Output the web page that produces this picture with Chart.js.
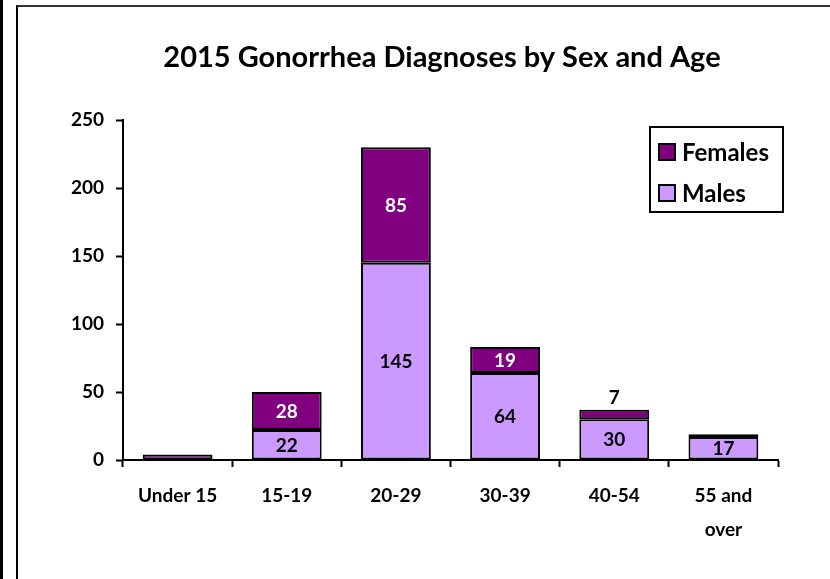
<!DOCTYPE html>
<html>
<head>
<meta charset="utf-8">
<script src="https://cdn.jsdelivr.net/npm/chart.js@4/dist/chart.umd.min.js"></script>
<style>
  html, body { margin: 0; padding: 0; background: #fff; }
  #wrap { position: relative; width: 830px; height: 579px; overflow: hidden; }
  #edge { position: absolute; left: 0; top: 0; width: 3px; height: 579px; background: #000; }
  #frame { position: absolute; left: 16px; top: 5px; width: 900px; height: 700px;
           border-left: 2px solid #000; border-top: 2px solid #333; }
  canvas { position: absolute; left: 0; top: 0; }
</style>
</head>
<body>
<div id="wrap">
  <div id="edge"></div>
  <div id="frame"></div>
  <canvas id="chart" width="830" height="579"></canvas>
</div>
<script>
const chartTitle = "2015 Gonorrhea Diagnoses by Sex and Age";
const ageGroups = ["Under 15", "15-19", "20-29", "30-39", "40-54", ["55 and", "over"]];
const males = [0, 22, 145, 64, 30, 17];
const females = [4, 28, 85, 19, 7, 2];
const yTicks = [0, 50, 100, 150, 200, 250];

const FONT = "Lato, 'Open Sans', sans-serif";

// draws the title, the boxed legend and the value labels
const decor = {
  id: "decor",
  afterDatasetsDraw(chart) {
    const ctx = chart.ctx;
    ctx.save();
    ctx.fillStyle = "#000";
    ctx.font = "bold 29px " + FONT;
    ctx.textAlign = "center";
    ctx.textBaseline = "middle";
    ctx.fillText(chartTitle, 442, 58);

    // value labels
    ctx.font = "bold 19px " + FONT;
    chart.data.datasets.forEach((ds, i) => {
      const meta = chart.getDatasetMeta(i);
      meta.data.forEach((bar, j) => {
        const v = ds.data[j];
        const h = Math.abs(bar.base - bar.y);
        if (h >= 20) {
          ctx.fillStyle = ds.labelColor;
          ctx.fillText(String(v), bar.x, (bar.y + bar.base) / 2 + 1);
        } else if (v >= 5) {
          ctx.fillStyle = "#000";
          ctx.fillText(String(v), bar.x, bar.y - 12);
        }
      });
    });

    // legend box
    const lx = 650, ly = 127, lw = 133, lh = 85;
    ctx.lineWidth = 2;
    ctx.strokeStyle = "#000";
    ctx.strokeRect(lx, ly, lw, lh);
    ctx.textAlign = "left";
    ctx.font = "bold 24px " + FONT;
    const items = chart.data.datasets.slice().reverse();
    items.forEach((ds, k) => {
      const cy = ly + 25 + k * 41;
      ctx.fillStyle = ds.backgroundColor;
      ctx.fillRect(659, cy - 8, 16, 16);
      ctx.strokeRect(659, cy - 8, 16, 16);
      ctx.fillStyle = "#000";
      ctx.fillText(ds.label, 682, cy + 1);
    });
    ctx.restore();
  }
};

new Chart(document.getElementById("chart"), {
  type: "bar",
  data: {
    labels: ageGroups,
    datasets: [
      { label: "Males", data: males, backgroundColor: "#CC99FF", labelColor: "#000",
        borderColor: "#000", borderWidth: 2, borderSkipped: false },
      { label: "Females", data: females, backgroundColor: "#800080", labelColor: "#fff",
        borderColor: "#000", borderWidth: 2, borderSkipped: false }
    ]
  },
  options: {
    responsive: false,
    animation: false,
    layout: { padding: { left: 0, top: 120, right: 52, bottom: 0 } },
    plugins: { legend: { display: false }, title: { display: false }, tooltip: { enabled: false } },
    datasets: { bar: { categoryPercentage: 1, barPercentage: 0.64 } },
    scales: {
      x: {
        stacked: true,
        afterFit(s) { s.height = 119; },
        grid: { drawOnChartArea: false, drawTicks: true, tickLength: 7, tickColor: "#000", tickWidth: 2, offset: true },
        border: { color: "#000", width: 2 },
        ticks: { color: "#000", padding: 12, maxRotation: 0, autoSkip: false,
                 font: { family: FONT, size: 19, weight: "bold", lineHeight: 1.8 } }
      },
      y: {
        stacked: true,
        min: 0, max: 250,
        afterFit(s) { s.width = 123; },
        afterBuildTicks(s) { s.ticks = yTicks.map(v => ({ value: v })); },
        grid: { drawOnChartArea: false, drawTicks: true, tickLength: 7, tickColor: "#000", tickWidth: 2 },
        border: { color: "#000", width: 2 },
        ticks: { color: "#000", padding: 12,
                 font: { family: FONT, size: 19, weight: "bold" } }
      }
    }
  },
  plugins: [decor]
});
</script>
</body>
</html>
